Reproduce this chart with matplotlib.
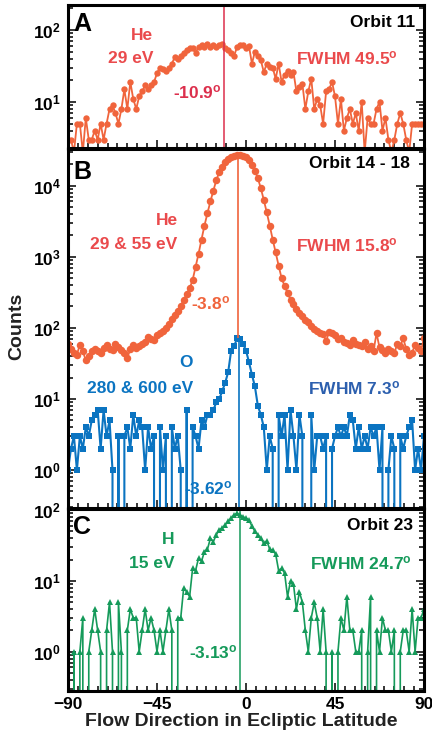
import numpy as np
import matplotlib
matplotlib.use("Agg")
import matplotlib.pyplot as plt
from matplotlib.ticker import LogLocator, NullFormatter, MultipleLocator

plt.rcParams['font.family'] = 'Liberation Sans'
plt.rcParams['font.weight'] = 'bold'
plt.rcParams['mathtext.fontset'] = 'custom'
plt.rcParams['mathtext.rm'] = 'Liberation Sans:bold'
plt.rcParams['mathtext.it'] = 'Liberation Sans:bold'
plt.rcParams['mathtext.bf'] = 'Liberation Sans:bold'
plt.rcParams['mathtext.default'] = 'rm'

# flow direction bins (deg), 1.5 deg steps from -90 to 90
angle = np.linspace(-90, 90, 121)

# A: He 29 eV, orbit 11
he_a = [3, 3, 2, 5, 5, 2, 6, 3, 3, 4,
        3, 5, 3, 5, 8, 9, 7, 5, 8, 15,
        8, 19, 11, 8, 12, 14, 17, 15, 17, 19,
        25, 30, 29, 27, 30, 34, 42, 40, 44, 48,
        52, 56, 56, 48, 58, 61, 58, 64, 58, 61,
        58, 61, 63, 56, 53, 48, 44, 58, 62, 61,
        56, 60, 34, 50, 44, 38, 26, 34, 31, 30,
        21, 34, 19, 24, 27, 24, 26, 14, 16, 18,
        8, 14, 21, 8, 11, 9, 5, 14, 15, 19,
        12, 5, 11, 4, 6, 8, 5, 7, 4, 10,
        2, 6, 5, 5, 8, 10, 4, 6, 3, 2,
        3, 5, 7, 5, 3, 2, 5, 5, 5, 5,
        5]

# B: He 29 & 55 eV, orbits 14 - 18
he_b = [60, 50, 45, 42, 58, 47, 35, 40, 47, 51,
        48, 45, 52, 58, 50, 49, 60, 54, 49, 44,
        38, 50, 58, 52, 55, 60, 63, 75, 70, 67,
        80, 86, 90, 100, 115, 135, 150, 175, 205, 245,
        300, 360, 470, 720, 1100, 1750, 2750, 4100, 6000, 8500,
        12000, 15500, 18500, 21500, 23500, 25000, 26000, 27000, 27000, 26500,
        25500, 23000, 19800, 16200, 12700, 9200, 6300, 4200, 2750, 1750,
        1150, 750, 500, 390, 310, 250, 215, 185, 160, 145,
        130, 122, 105, 95, 90, 85, 82, 65, 88, 84,
        80, 70, 72, 64, 61, 58, 67, 60, 58, 55,
        63, 51, 55, 48, 84, 53, 49, 45, 50, 47,
        44, 60, 55, 72, 50, 41, 45, 58, 52, 48,
        72]

# B: O 280 & 600 eV
o_b = [1, 2, 3, 1, 3, 2, 4, 3, 5, 6,
       7, 2, 7, 3, 5, 1, 0, 3, 0, 3,
       4, 2, 6, 3, 5, 4, 1, 4, 2, 3,
       0, 4, 1, 3, 0, 4, 2, 3, 1, 0,
       7, 0, 4, 3, 2, 5, 4, 6, 6, 7,
       9, 10, 13, 17, 24, 48, 55, 72, 70, 60,
       48, 33, 22, 15, 8, 6, 4, 1, 3, 2,
       0, 6, 3, 6, 1, 7, 3, 1, 6, 3,
       0, 0, 6, 1, 3, 3, 2, 3, 0, 2,
       3, 4, 3, 4, 3, 6, 5, 2, 4, 2,
       3, 2, 4, 3, 4, 1, 4, 0, 1, 3,
       2, 0, 3, 2, 3, 4, 5, 1, 2, 1,
       3]

# C: H 15 eV, orbit 23
h_c = [3, 0, 1, 0, 1, 3, 0, 1, 2, 4,
       2, 1, 0, 2, 5, 1, 0, 5, 1, 0,
       2, 4, 3, 3, 1, 2, 4, 2, 3, 2,
       1, 2, 1, 2, 4, 2, 0, 3, 3, 8,
       7, 6, 15, 14, 21, 19, 26, 28, 40, 36,
       45, 53, 56, 62, 70, 77, 86, 90, 86, 80,
       78, 72, 60, 50, 45, 40, 34, 37, 28, 27,
       24, 14, 15, 13, 6, 10, 9, 4, 7, 5,
       2, 1, 3, 5, 3, 1, 4, 1, 0, 1,
       0, 1, 3, 2, 6, 2, 2, 1, 1, 2,
       0, 1, 6, 0, 2, 1, 3, 2, 2, 1,
       2, 0, 1, 2, 2, 1, 4, 1, 3, 3,
       4]

he_a_center = -10.9
he_b_center = -3.8
o_b_center = -3.62
h_c_center = -3.13

c_he = '#f0643c'
c_he_txt = '#ea4a4c'
c_he_a_line = '#dc2f4c'
c_o = '#0b74c1'
c_o_dark = '#2c5fae'
c_h = '#159a5a'

W, H = 432, 734
fig = plt.figure(figsize=(W / 100, H / 100), dpi=100)


def add_panel(top, bottom):
    left, right = 68, 424
    return fig.add_axes([left / W, (H - bottom) / H, (right - left) / W, (bottom - top) / H])


def style(ax, ylim, decades, xlabels):
    ax.set_yscale('log', nonpositive='clip')
    ax.set_xlim(-90, 90)
    ax.set_ylim(*ylim)
    ax.set_yticks(decades)
    ax.set_yticklabels([r'$10^{%d}$' % round(np.log10(d)) for d in decades])
    ax.yaxis.set_minor_locator(LogLocator(base=10, subs=np.arange(2, 10)))
    ax.yaxis.set_minor_formatter(NullFormatter())
    ax.set_xticks([-90, -45, 0, 45, 90])
    ax.xaxis.set_minor_locator(MultipleLocator(5))
    ax.tick_params(which='both', direction='in', left=True, right=True,
                   top=False, bottom=True, width=1.1, labelsize=12.5, pad=5)
    ax.tick_params(which='major', length=6)
    ax.tick_params(which='minor', length=3.5)
    ax.tick_params(axis='x', pad=4, labelbottom=xlabels)
    for s in ax.spines.values():
        s.set_linewidth(2.2)


def label(ax, x, y, s, color, ha='right', size=12.5):
    ax.text(x, y, s, transform=ax.transAxes, color=color, ha=ha, va='center',
            fontsize=size, fontweight='bold')


# ---- panel A
axA = add_panel(5, 148)
style(axA, (2.3, 222), [10, 100], False)
axA.plot(angle, he_a, color=c_he, marker='o', markersize=4.6, markeredgewidth=0, lw=1.3)
axA.axvline(he_a_center, color=c_he_a_line, lw=1.1)
label(axA, 0.014, 0.867, 'A', 'black', ha='left', size=18)
label(axA, 0.975, 0.881, 'Orbit 11', 'black')
label(axA, 0.239, 0.790, 'He', c_he_txt)
label(axA, 0.239, 0.629, '29 eV', c_he_txt)
label(axA, 0.927, 0.629, r'FWHM 49.5$^{o}$', c_he_txt)
label(axA, 0.432, 0.392, r'-10.9$^{o}$', c_he_a_line)

# ---- panel B
axB = add_panel(149, 508)
style(axB, (0.293, 32800), [1, 10, 100, 1000, 10000], False)
axB.plot(angle, he_b, color=c_he, marker='o', markersize=5.4, markeredgewidth=0, lw=1.3)
axB.plot(angle, o_b, color=c_o, marker='s', markersize=4.8, markeredgewidth=0, lw=1.5)
axB.vlines(he_b_center, max(o_b), max(he_b), color=c_he, lw=1.2)
axB.vlines(o_b_center, 0.293, max(o_b), color=c_o, lw=1.2)
label(axB, 0.014, 0.937, 'B', 'black', ha='left', size=18)
label(axB, 0.961, 0.960, 'Orbit 14 - 18', 'black')
label(axB, 0.309, 0.802, 'He', c_he_txt)
label(axB, 0.306, 0.733, '29 & 55 eV', c_he_txt)
label(axB, 0.927, 0.733, r'FWHM 15.8$^{o}$', c_he_txt)
label(axB, 0.455, 0.571, r'-3.8$^{o}$', c_he)
label(axB, 0.351, 0.404, 'O', c_o)
label(axB, 0.351, 0.334, '280 & 600 eV', c_o)
label(axB, 0.933, 0.334, r'FWHM 7.3$^{o}$', c_o_dark)
label(axB, 0.462, 0.056, r'-3.62$^{o}$', c_o)

# ---- panel C
axC = add_panel(509, 691)
style(axC, (0.278, 104), [1, 10, 100], True)
axC.plot(angle, h_c, color=c_h, marker='^', markersize=4.0, markeredgewidth=0, lw=1.2)
axC.axvline(h_c_center, color=c_h, lw=1.1)
label(axC, 0.014, 0.903, 'C', 'black', ha='left', size=18)
label(axC, 0.969, 0.907, 'Orbit 23', 'black')
label(axC, 0.300, 0.830, 'H', c_h)
label(axC, 0.300, 0.703, '15 eV', c_h)
label(axC, 0.966, 0.703, r'FWHM 24.7$^{o}$', c_h)
label(axC, 0.478, 0.214, r'-3.13$^{o}$', c_h)

fig.text(241.7 / W, (H - 722) / H, 'Flow Direction in Ecliptic Latitude',
         ha='center', va='center', fontsize=14, fontweight='bold', color='#222222')
fig.text(17 / W, (H - 326) / H, 'Counts', rotation=90, ha='center', va='center',
         fontsize=14, fontweight='bold', color='#222222')

fig.savefig('out.png', dpi=100)
